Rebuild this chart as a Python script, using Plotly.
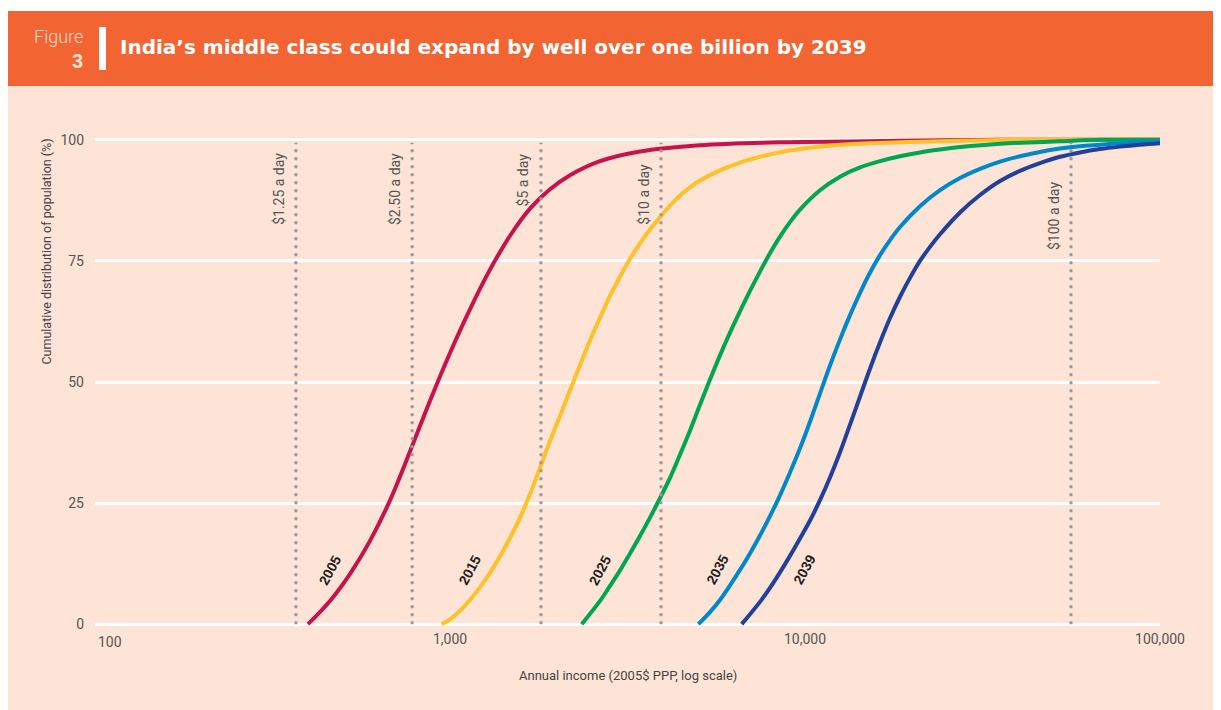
import numpy as np
import plotly.graph_objects as go

# cumulative distribution of population (%) by annual income (2005$ PPP)
years = ["2005", "2015", "2025", "2035", "2039"]
colors = ["#C8134A", "#FDC12A", "#00A651", "#0088CC", "#21409A"]

income_2005 = [398, 459, 523, 595, 678, 771, 879, 1000, 1138, 1296, 1476, 1680, 1913, 2178, 2646, 3429,
               5060, 8502, 18520, 35430, 100000]
share_2005 = [0, 4.8, 10.4, 17.2, 25.6, 35.6, 46.2, 56.0, 65.0, 73.2, 80.2, 85.8, 89.8, 92.7, 95.6, 97.6,
              98.9, 99.5, 99.8, 100, 100]

income_2015 = [948, 1000, 1067, 1138, 1215, 1296, 1383, 1476, 1575, 1680, 1793, 1913, 2041, 2178, 2324, 2480,
               2646, 2823, 3013, 3214, 3429, 3659, 3904, 4166, 4445, 4743, 5060, 5761, 6559, 7467, 9071,
               12550, 18520, 40330, 100000]
share_2015 = [0, 1.0, 2.8, 5.0, 7.6, 10.6, 14.0, 17.8, 22.0, 26.8, 32.3, 37.8, 43.0, 48.3, 53.5, 58.6,
              63.3, 67.8, 71.8, 75.4, 78.6, 81.5, 84.0, 86.4, 88.5, 90.2, 91.6, 93.7, 95.3, 96.5, 97.8,
              99.0, 99.5, 100, 100]

income_2025 = [2350, 2646, 2823, 3013, 3214, 3429, 3659, 3904, 4166, 4445, 4743, 5060, 5400, 5761, 6147,
               6559, 6999, 7467, 7968, 8502, 9071, 9680, 11020, 12550, 14290, 16270, 18520, 21080, 24010,
               27330, 35430, 52280, 67760, 100000]
share_2025 = [0, 4.8, 7.9, 11.1, 14.6, 18.2, 22.0, 26.0, 30.2, 35.0, 40.0, 45.3, 50.5, 55.5, 60.2,
              64.6, 68.8, 72.8, 76.6, 80.0, 83.0, 85.6, 89.6, 92.4, 94.3, 95.6, 96.6, 97.4, 98.0,
              98.5, 99.2, 99.7, 100, 100]

income_2035 = [5005, 5400, 5761, 6147, 6559, 6999, 7467, 7968, 8502, 9071, 9680, 10330, 11020, 11760, 12550,
               13390, 14290, 15250, 16270, 17360, 18520, 21080, 24010, 27330, 31120, 35430, 40330, 45920,
               52280, 59520, 67760, 77140, 87830, 100000]
share_2035 = [0, 2.5, 5.0, 8.0, 11.2, 14.6, 18.3, 22.3, 26.6, 31.3, 36.3, 41.8, 47.6, 53.4, 58.8,
              63.8, 68.4, 72.6, 76.2, 79.3, 82.0, 86.3, 89.6, 92.1, 94.0, 95.5, 96.6, 97.5,
              98.2, 98.7, 99.0, 99.3, 99.5, 99.6]

income_2039 = [6633, 7467, 7968, 8502, 9071, 9680, 10330, 11020, 11760, 12550, 13390, 14290, 15250,
               16270, 17360, 18520, 19760, 21080, 22495, 24010, 27330, 31120, 35430, 40330, 45920, 52280,
               59520, 67760, 77140, 87830, 100000]
share_2039 = [0, 4.6, 7.5, 10.7, 14.1, 17.7, 21.4, 25.6, 30.3, 35.5, 41.2, 47.0, 52.8,
              58.2, 63.2, 67.6, 71.5, 75.0, 77.9, 80.5, 85.0, 88.6, 91.5, 93.6, 95.2, 96.5,
              97.4, 98.1, 98.6, 99.0, 99.3]

incomes = [income_2005, income_2015, income_2025, income_2035, income_2039]
shares = [share_2005, share_2015, share_2025, share_2035, share_2039]

# where each year label sits (income)
year_label_income = [459, 1135, 2645, 5651, 9937]

poverty_lines = ["$1.25 a day", "$2.50 a day", "$5 a day", "$10 a day", "$100 a day"]
poverty_income = [368, 782, 1804, 3930, 56150]
poverty_label_top = [97.7, 97.7, 97.7, 95.4, 91.7]

x_ticks = [1000, 10000, 100000]
x_ticktext = ["1,000", "10,000", "100,000"]
y_ticks = [0, 25, 50, 75, 100]

PEACH = "#FDE4D6"
ORANGE = "#F26532"
TXT = "Roboto, Arial, sans-serif"

fig = go.Figure()

for yr, col, xs, ys in zip(years, colors, incomes, shares):
    fig.add_trace(go.Scatter(x=xs, y=ys, mode="lines", name=yr,
                             line=dict(color=col, width=4, shape="spline", smoothing=1.0),
                             hoverinfo="x+y+name"))

for name, val in zip(poverty_lines, poverty_income):
    fig.add_trace(go.Scatter(x=[val, val], y=[0, 99.4], mode="lines", name=name,
                             line=dict(color="#9A9A9A", width=3, dash="3px,5px")))

annotations = []
for name, val, top in zip(poverty_lines, poverty_income, poverty_label_top):
    annotations.append(dict(x=np.log10(val), y=top, xref="x", yref="y", text=name,
                            textangle=-90, xanchor="center", yanchor="top", xshift=-17,
                            showarrow=False, font=dict(family=TXT, size=14, color="#555555")))

for yr, val in zip(years, year_label_income):
    annotations.append(dict(x=np.log10(val), y=11.2, xref="x", yref="y", text="<b>" + yr + "</b>",
                            textangle=-62, showarrow=False,
                            font=dict(family="Liberation Sans, Arial, sans-serif", size=14, color="#231F20")))

# header and axis texts (paper coords relative to the plot area)
annotations += [
    dict(x=0.0216, y=1.178, xref="paper", yref="paper", xanchor="left", yanchor="middle",
         text="<b>India’s middle class could expand by well over one billion by 2039</b>",
         showarrow=False, font=dict(family="DejaVu Sans, sans-serif", size=20, color="white")),
    dict(x=-0.0094, y=1.2004, xref="paper", yref="paper", xanchor="right", yanchor="middle",
         text="Figure", showarrow=False, font=dict(family=TXT, size=18, color="#FDD9C6", weight=300)),
    dict(x=-0.0094, y=1.1498, xref="paper", yref="paper", xanchor="right", yanchor="middle",
         text="<b>3</b>", showarrow=False, font=dict(family="Liberation Sans, Arial, sans-serif", size=20, color="#FDE3D4")),
    dict(x=-0.0451, y=0.764, xref="paper", yref="paper", xanchor="center", yanchor="middle",
         text="Cumulative distribution of population (%)", textangle=-90,
         showarrow=False, font=dict(family=TXT, size=12.5, color="#444444")),
    dict(x=0.5, y=-0.0951, xref="paper", yref="paper", xanchor="center", yanchor="middle",
         text="Annual income (2005$ PPP, log scale)",
         showarrow=False, font=dict(family=TXT, size=13, color="#444444")),
    dict(x=0.001, y=-0.0257, xref="paper", yref="paper", xanchor="left", yanchor="middle",
         text="100", showarrow=False, font=dict(family=TXT, size=14, color="#555555")),
]

shapes = [
    dict(type="rect", xref="paper", yref="paper", x0=-0.2, x1=1.2, y0=1.2510, y1=1.4,
         fillcolor="white", line_width=0, layer="below"),
    dict(type="rect", xref="paper", yref="paper", x0=-0.2, x1=1.2, y0=1.0992, y1=1.2510,
         fillcolor=ORANGE, line_width=0, layer="below"),
    dict(type="rect", xref="paper", yref="paper", x0=0.00376, x1=0.01033, y0=1.1316, y1=1.2186,
         fillcolor="white", line_width=0, layer="below"),
]

# page body adds 8px around the figure, so the figure is 8px smaller
fig.update_layout(
    width=1213, height=702,
    margin=dict(l=87, r=61, t=127, b=81),
    paper_bgcolor=PEACH, plot_bgcolor=PEACH,
    showlegend=False,
    annotations=annotations,
    shapes=shapes,
    font=dict(family=TXT, color="#555555"),
)
fig.update_xaxes(type="log", range=[2, 5], tickvals=x_ticks, ticktext=x_ticktext,
                 showgrid=False, zeroline=False, showline=False, ticks="",
                 tickfont=dict(family=TXT, size=14, color="#555555"))
fig.update_yaxes(range=[-1, 101], tickvals=y_ticks, showgrid=True, gridcolor="white", gridwidth=3,
                 zeroline=False, showline=False, ticks="", ticklabelstandoff=10,
                 tickfont=dict(family=TXT, size=14, color="#555555"))

fig.write_html("out.html")
